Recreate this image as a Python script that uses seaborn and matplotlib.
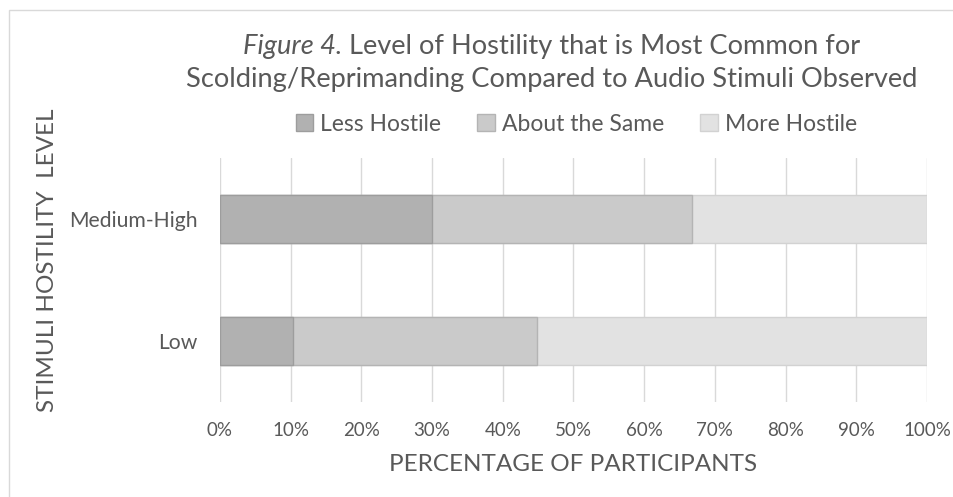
import matplotlib
matplotlib.use("Agg")
import matplotlib.pyplot as plt
import seaborn as sns
import pandas as pd
from matplotlib.patches import Patch, Rectangle

# data (percent of participants)
levels = ["Medium-High", "Low"]
less_hostile = [30.0, 10.3]
about_same = [36.7, 34.5]
more_hostile = [33.3, 55.2]
series_names = ["Less Hostile", "About the Same", "More Hostile"]
colors = ["#b1b1b1", "#cacaca", "#e2e2e2"]
edges = ["#9d9d9d", "#b4b4b4", "#d2d2d2"]
xticks = [0, 10, 20, 30, 40, 50, 60, 70, 80, 90, 100]

sns.set_theme(style="white")
plt.rcParams["font.family"] = ["Lato", "DejaVu Sans"]
grey = "#595959"

df = pd.DataFrame({"level": levels, "less": less_hostile,
                   "about": about_same, "more": more_hostile})
df["c1"] = df["less"]
df["c2"] = df["less"] + df["about"]
df["c3"] = df["c2"] + df["more"]

fig = plt.figure(figsize=(9.54, 4.97), dpi=100)
ax = fig.add_axes([0.2306, 0.191, 0.741, 0.491])

# stacked bars: draw cumulative totals, widest first
for col, c, e in zip(["c3", "c2", "c1"], colors[::-1], edges[::-1]):
    sns.barplot(data=df, x=col, y="level", order=levels, orient="h",
                color=c, edgecolor=e, linewidth=1.0, width=0.4,
                saturation=1, ax=ax, zorder=3)

ax.set_xlim(0, 100)
ax.set_ylim(1.5, -0.5)
ax.set_xticks(xticks)
ax.set_xticklabels([f"{t}%" for t in xticks])
ax.grid(axis="x", color="#d9d9d9", linewidth=1.0, zorder=0)
ax.grid(axis="y", visible=False)
ax.set_axisbelow(True)
for s in ax.spines.values():
    s.set_visible(False)
ax.tick_params(axis="x", length=0, labelsize=13.5, labelcolor=grey, pad=14)
ax.tick_params(axis="y", length=0, labelsize=15.2, labelcolor=grey, pad=16)

ax.set_xlabel("PERCENTAGE OF PARTICIPANTS", fontsize=17.5, color=grey, labelpad=11)
ax.set_ylabel("STIMULI HOSTILITY  LEVEL", fontsize=17.5, color=grey, labelpad=0)
ax.yaxis.set_label_coords(-0.229, 0.58)

# title: italic "Figure 4." followed by regular text, centred as one line
renderer = fig.canvas.get_renderer()
t_it = fig.text(0, 0.907, "Figure 4.", fontsize=19.6, style="italic",
                color=grey, va="center", ha="left")
t_rest = fig.text(0, 0.907, " Level of Hostility that is Most Common for",
                  fontsize=19.6, color=grey, va="center", ha="left")
w_it = t_it.get_window_extent(renderer).width / fig.bbox.width
w_rest = t_rest.get_window_extent(renderer).width / fig.bbox.width
x0 = 0.578 - (w_it + w_rest) / 2
t_it.set_x(x0)
t_rest.set_x(x0 + w_it)
fig.text(0.578, 0.841, "Scolding/Reprimanding Compared to Audio Stimuli Observed",
         ha="center", va="center", fontsize=19.6, color=grey)

handles = [Patch(facecolor=c, edgecolor=e, label=n)
           for n, c, e in zip(series_names, colors, edges)]
fig.legend(handles=handles, loc="center", bbox_to_anchor=(0.604, 0.75),
           ncol=3, frameon=False, fontsize=16.5, labelcolor=grey,
           handlelength=0.75, handleheight=0.75, handletextpad=0.3,
           columnspacing=1.6)

# outer chart border like the cropped original
fig.patches.append(Rectangle((9 / 954, -0.05), 1.0, 1 - 10 / 497 + 0.05,
                             transform=fig.transFigure, fill=False,
                             edgecolor="#d9d9d9", linewidth=1.0))

fig.savefig("out.png", dpi=100)
